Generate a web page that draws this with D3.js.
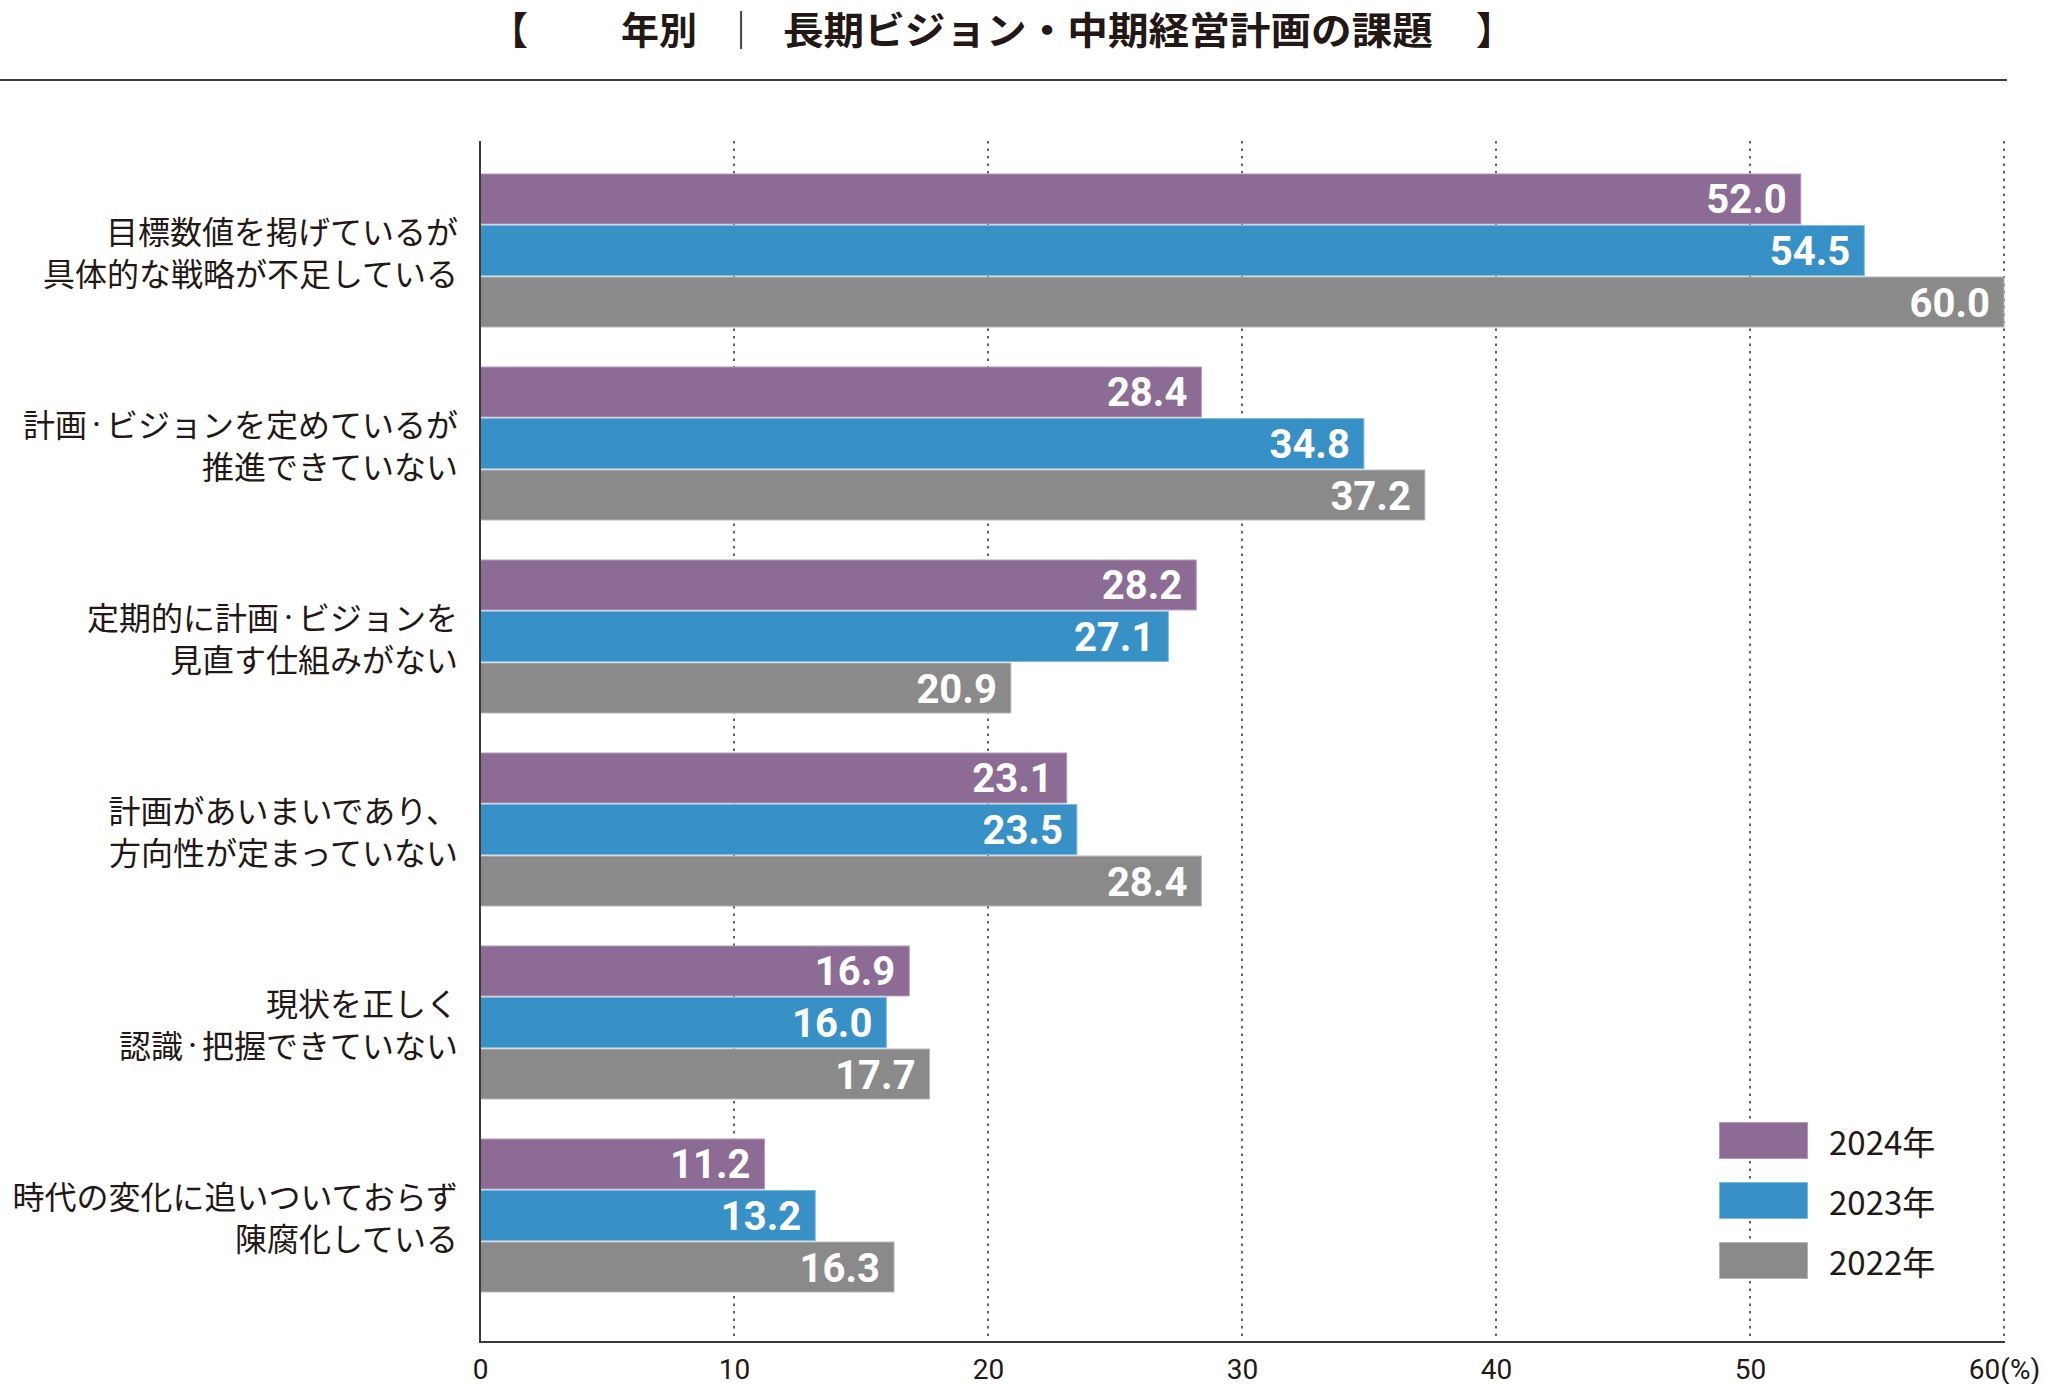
<!DOCTYPE html>
<html><head><meta charset="utf-8">
<script src="https://cdn.jsdelivr.net/npm/d3@7"></script>
<style>
html,body{margin:0;padding:0;background:#fff;}
svg{display:block;}
</style></head>
<body>
<svg id="chart" width="2046" height="1384"></svg>
<script>
const categories = [
  ["目標数値を掲げているが","具体的な戦略が不足している"],
  ["計画・ビジョンを定めているが","推進できていない"],
  ["定期的に計画・ビジョンを","見直す仕組みがない"],
  ["計画があいまいであり、","方向性が定まっていない"],
  ["現状を正しく","認識・把握できていない"],
  ["時代の変化に追いついておらず","陳腐化している"]
];
const seriesNames = ["2024年","2023年","2022年"];
const values2024 = [52.0, 28.4, 28.2, 23.1, 16.9, 11.2];
const values2023 = [54.5, 34.8, 27.1, 23.5, 16.0, 13.2];
const values2022 = [60.0, 37.2, 20.9, 28.4, 17.7, 16.3];
const tickValues = [0,10,20,30,40,50,60];
const tickLabels = ["0","10","20","30","40","50","60(%)"];
const colors = ["#8c6b94","#3891c6","#8a8a8a"];
const strokes = ["#b49ab9","#7fbde0","#b5b5b5"];

const seriesValues = [values2024, values2023, values2022];
const svg = d3.select("#chart");
const jp = "'Noto Sans CJK JP','Noto Sans',sans-serif";
const num = "'Roboto','Noto Sans',sans-serif";
const dark = "#231815";

const x = d3.scaleLinear().domain([0,60]).range([480,2004]);
const catKeys = categories.map((c,i)=>i);
const y = d3.scaleBand().domain(catKeys).range([174,1292]).paddingInner(40/193).paddingOuter(0);
const yi = d3.scaleBand().domain([0,1,2]).range([0,y.bandwidth()]).paddingInner(0.03);

// write text with a narrower middle dot
function dotText(sel, str){
  const parts = str.split("・");
  parts.forEach((p,i)=>{
    if(i>0){ sel.append("tspan").attr("font-size",19).text("・"); sel.append("tspan").attr("font-size",32).text(p); }
    else sel.append("tspan").text(p);
  });
}

// title
const tg = svg.append("g").attr("font-family", jp).attr("font-weight",700).attr("fill", dark).attr("font-size",38);
tg.append("text").attr("x",490).attr("y",27).attr("dominant-baseline","central").text("【");
tg.append("text").attr("x",621).attr("y",27).attr("dominant-baseline","central").text("年別");
tg.append("text").attr("x",722).attr("y",27).attr("dominant-baseline","central").attr("font-weight",400).text("｜");
tg.append("text").attr("x",783).attr("y",27).attr("dominant-baseline","central")
  .attr("textLength",650).attr("lengthAdjust","spacingAndGlyphs").text("長期ビジョン・中期経営計画の課題");
tg.append("text").attr("x",1476).attr("y",27).attr("dominant-baseline","central").text("】");
svg.append("line").attr("x1",0).attr("x2",2007).attr("y1",80).attr("y2",80)
  .attr("stroke","#3e3a39").attr("stroke-width",2);

// grid lines
svg.append("g").selectAll("line").data(tickValues.filter(d=>d>0)).join("line")
  .attr("x1",d=>x(d)).attr("x2",d=>x(d)).attr("y1",141).attr("y2",1342)
  .attr("stroke","#3e3a39").attr("stroke-width",1.6).attr("stroke-dasharray","2.5,5");

// legend
const lg = svg.append("g");
seriesNames.forEach((s,i)=>{
  lg.append("rect").attr("x",1719.5).attr("y",1122.5+i*60).attr("width",88).attr("height",36)
    .attr("fill",colors[i]).attr("stroke",strokes[i]).attr("stroke-width",1);
  lg.append("text").attr("x",1829).attr("y",1141+i*60).attr("dominant-baseline","central")
    .attr("font-family",jp).attr("font-size",33).attr("fill",dark).text(s);
});

// bars
const groups = svg.append("g").selectAll("g").data(catKeys).join("g")
  .attr("transform",d=>`translate(0,${y(d)})`);
groups.each(function(ci){
  const g = d3.select(this);
  seriesValues.forEach((vals,si)=>{
    const v = vals[ci];
    g.append("rect").attr("x",x(0)).attr("y",yi(si)).attr("width",x(v)-x(0)).attr("height",yi.bandwidth())
      .attr("fill",colors[si]).attr("stroke",strokes[si]).attr("stroke-width",1);
    g.append("text").attr("x",x(v)-14).attr("y",yi(si)+yi.bandwidth()/2+1)
      .attr("text-anchor","end").attr("dominant-baseline","central")
      .attr("font-family",num).attr("font-weight",700).attr("font-size",40).attr("fill","#fff")
      .text(v.toFixed(1));
  });
  const cy = y.bandwidth()/2;
  [0,1].forEach(li=>{
    const t = g.append("text").attr("x",458).attr("y",cy+(li===0?-21:21)).attr("text-anchor","end")
      .attr("dominant-baseline","central").attr("font-family",jp).attr("font-size",32).attr("fill",dark);
    dotText(t, categories[ci][li]);
  });
});

// axes
svg.append("line").attr("x1",x(0)).attr("x2",x(0)).attr("y1",141).attr("y2",1343)
  .attr("stroke","#3e3a39").attr("stroke-width",2);
svg.append("line").attr("x1",x(0)-1).attr("x2",x(60)+1).attr("y1",1342).attr("y2",1342)
  .attr("stroke","#3e3a39").attr("stroke-width",2);
const xAxis = d3.axisBottom(x).tickValues(tickValues).tickSize(0).tickPadding(0)
  .tickFormat((d,i)=>tickLabels[i]);
const ax = svg.append("g").attr("transform","translate(0,1369)").call(xAxis);
ax.select(".domain").remove();
ax.selectAll("text").attr("font-family","'Liberation Sans Narrow','Roboto',sans-serif")
  .attr("font-size",28).attr("fill",dark).attr("dy",null).attr("y",0).attr("dominant-baseline","central");
</script>
</body></html>
